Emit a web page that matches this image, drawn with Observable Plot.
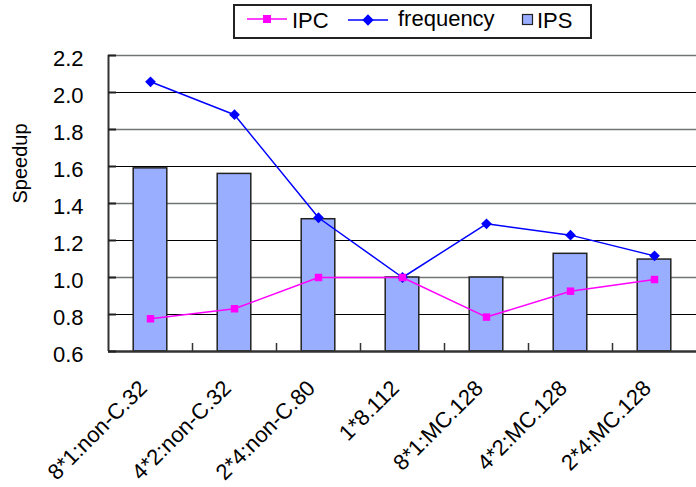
<!DOCTYPE html>
<html>
<head>
<meta charset="utf-8">
<script src="https://cdn.jsdelivr.net/npm/d3@7"></script>
<script src="https://cdn.jsdelivr.net/npm/@observablehq/plot@0.6"></script>
<style>
  html, body { margin: 0; padding: 0; background: #fff; }
  #wrap { position: relative; width: 696px; height: 487px; font-family: "Liberation Sans", Arial, sans-serif; }
  #legend { position: absolute; left: 233px; top: 4px; width: 355px; height: 31px; border: 2px solid #222; background: #fff;
            font-size: 22px; color: #000; z-index: 2; }
  #legend .item { position: absolute; top: 0; height: 31px; }
  #legend span { position: absolute; top: 2px; white-space: nowrap; }
  #legend svg { position: absolute; overflow: visible; }
</style>
</head>
<body>
<div id="wrap">
  <div id="legend"></div>
  <div id="chart"></div>
</div>
<script>
const categories = ["8*1:non-C.32", "4*2:non-C.32", "2*4:non-C.80", "1*8.112", "8*1:MC.128", "4*2:MC.128", "2*4:MC.128"];
const ips = [1.59, 1.56, 1.315, 1.0, 1.0, 1.128, 1.097];
const frequency = [2.058, 1.88, 1.323, 1.0, 1.29, 1.229, 1.117];
const ipc = [0.777, 0.831, 1.0, 1.0, 0.786, 0.926, 0.989];
const yTicks = [0.6, 0.8, 1.0, 1.2, 1.4, 1.6, 1.8, 2.0, 2.2];
const seriesNames = ["IPC", "frequency", "IPS"];

const data = categories.map((c, i) => ({cat: c, ips: ips[i], frequency: frequency[i], ipc: ipc[i]}));

const W = 696, H = 487, mL = 108, mR = 0, mT = 55, mB = 136;
const bw = (W - mL - mR) / categories.length;
const gridLines = yTicks.slice(1);
const fmt = d3.format(".1f");

const chart = Plot.plot({
  width: W, height: H,
  marginLeft: mL, marginRight: mR, marginTop: mT, marginBottom: mB,
  style: {fontFamily: "Liberation Sans, Arial, sans-serif", fontSize: "22px", color: "#000", background: "transparent"},
  x: {domain: categories, padding: 0, axis: null},
  y: {domain: [0.6, 2.2], axis: null},
  marks: [
    Plot.ruleY(gridLines, {stroke: (d, i) => (i % 2 === 0 ? "#000" : "#707474"), strokeWidth: (d, i) => (i % 2 === 0 ? 1 : 1.6)}),
    Plot.barY(data, {x: "cat", y1: 0.6, y2: "ips", fill: "#99aeff", stroke: "#222", strokeWidth: 1.5, insetLeft: bw * 0.3, insetRight: bw * 0.3}),
    Plot.ruleX(categories.slice(0, -1), {x: d => d, dx: bw / 2, insetTop: H - mT - mB - 8, stroke: "#333", strokeWidth: 1.5}),
    Plot.line(data, {x: "cat", y: "frequency", stroke: "#0000ff", strokeWidth: 1.5}),
    Plot.dot(data, {x: "cat", y: "frequency", symbol: "square", r: 4.3, rotate: 45, fill: "#0000ff", stroke: "none"}),
    Plot.line(data, {x: "cat", y: "ipc", stroke: "#ff00ff", strokeWidth: 1.5}),
    Plot.dot(data, {x: "cat", y: "ipc", symbol: "square", r: 4.2, fill: "#ff00ff", stroke: "none"}),
    Plot.ruleY([0.6], {stroke: "#333", strokeWidth: 2.5}),
    Plot.ruleX([categories[0]], {dx: -bw / 2, stroke: "#333", strokeWidth: 2}),
    Plot.axisY({ticks: yTicks, tickSize: -8, tickFormat: () => "", strokeWidth: 2, stroke: "#222", label: null}),
    Plot.text(yTicks, {y: d => d, text: d => fmt(d), frameAnchor: "left", textAnchor: "end", dx: -25, dy: 3, fontSize: 22}),
    Plot.text(["Speedup"], {frameAnchor: "left", dx: -88, rotate: -90, fontSize: 20}),
    Plot.text(data, {x: "cat", y: 0.6, text: "cat", rotate: -45, textAnchor: "end", lineAnchor: "middle", dx: -7, dy: 33, fontSize: 22})
  ]
});
document.getElementById("chart").appendChild(chart);

// Legend (HTML)
const legend = document.getElementById("legend");
function item(left, html) {
  const d = document.createElement("div");
  d.className = "item";
  d.style.left = left + "px";
  d.innerHTML = html;
  legend.appendChild(d);
}
item(12, `<svg width="40" height="31" style="left:0;top:0"><line x1="0" y1="13" x2="40" y2="13" stroke="#ff00ff" stroke-width="1.5"/><rect x="16" y="9" width="8" height="8" fill="#ff00ff"/></svg><span style="left:45px">${seriesNames[0]}</span>`);
item(113, `<svg width="40" height="31" style="left:0;top:0"><line x1="0" y1="14" x2="40" y2="14" stroke="#0000ff" stroke-width="1.5"/><rect x="16" y="10" width="8" height="8" fill="#0000ff" transform="rotate(45 20 14)"/></svg><span style="left:50px;top:0px">${seriesNames[1]}</span>`);
item(287, `<svg width="12" height="31" style="left:0;top:0"><rect x="0.5" y="8.5" width="10" height="10" fill="#99aeff" stroke="#222" stroke-width="1.2"/></svg><span style="left:15px">${seriesNames[2]}</span>`);
</script>
</body>
</html>
